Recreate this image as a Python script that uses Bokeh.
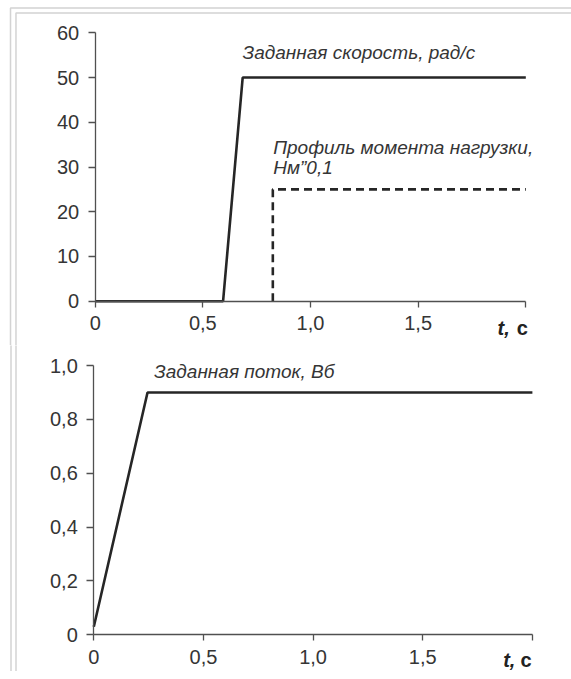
from bokeh.plotting import figure
from bokeh.models import Range1d, FixedTicker, Label, BoxAnnotation
from bokeh.layouts import column
from bokeh.embed import file_html
from bokeh.resources import INLINE

# ---- data ----
t_speed = [0.0, 0.594, 0.685, 2.0]
speed = [0.0, 0.0, 50.0, 50.0]

t_load = [0.825, 0.825, 2.0]
load = [0.0, 25.0, 25.0]

t_flux = [0.0, 0.245, 2.0]
flux = [0.03, 0.9, 0.9]

x_ticks = [0, 0.5, 1.0, 1.5, 2.0]
x_tick_labels = ["0", "0,5", "1,0", "1,5", ""]
y1_ticks = [0, 10, 20, 30, 40, 50, 60]
y1_tick_labels = ["0", "10", "20", "30", "40", "50", "60"]
y2_ticks = [0, 0.2, 0.4, 0.6, 0.8, 1.0]
y2_tick_labels = ["0", "0,2", "0,4", "0,6", "0,8", "1,0"]

label_speed = "Заданная скорость, рад/с"
label_load_1 = "Профиль момента нагрузки,"
label_load_2 = "Нм\u201d0,1"
label_flux = "Заданная поток, Вб"
axis_t = "t,"
axis_unit = "с"

FONT = "Liberation Sans"
LINE = "#262626"
AXIS = "#505050"
TEXT = "#353535"
FRAME = "#6e6e6e"


def style(p, xt, xl, yt, yl, ybounds):
    p.xgrid.visible = False
    p.ygrid.visible = False
    p.outline_line_color = None
    for ax in (p.xaxis[0], p.yaxis[0]):
        ax.axis_line_color = AXIS
        ax.axis_line_width = 1.3
        ax.major_tick_line_color = AXIS
        ax.major_tick_line_width = 1.3
        ax.major_tick_in = 0
        ax.minor_tick_line_color = None
        ax.major_label_text_font = FONT
        ax.major_label_text_font_size = "20px"
        ax.major_label_text_color = TEXT
        ax.fixed_location = 0
    xa = p.xaxis[0]
    xa.ticker = FixedTicker(ticks=xt)
    xa.major_label_overrides = {v: s for v, s in zip(xt, xl)}
    xa.bounds = (xt[0], xt[-1])
    xa.major_tick_out = 6
    xa.major_label_standoff = 9
    ya = p.yaxis[0]
    ya.ticker = FixedTicker(ticks=yt)
    ya.major_label_overrides = {v: s for v, s in zip(yt, yl)}
    ya.bounds = ybounds
    ya.major_tick_out = 7
    ya.major_label_standoff = 9


def t_label(p, dx_t, dx_c, y):
    p.add_layout(Label(x=2.0, y=y, x_offset=dx_t, text=axis_t,
                       text_font=FONT, text_font_size="20px", text_font_style="bold italic",
                       text_color="#222222", text_align="right", text_baseline="middle"))
    p.add_layout(Label(x=2.0, y=y, x_offset=dx_c, text=axis_unit,
                       text_font=FONT, text_font_size="20px", text_font_style="bold",
                       text_color="#222222", text_align="left", text_baseline="middle"))


def page_frame(p, lefts, tops):
    # decorative double rule of the scanned page (left and top edges)
    for l, t in zip(lefts, tops):
        p.add_layout(BoxAnnotation(left=l, right=50, top=t, bottom=-1000,
                                   fill_alpha=0, line_color=FRAME, line_width=1.5))


def make_fig(h, xr, yr):
    p = figure(width=571, height=h, output_backend="svg", toolbar_location=None,
               x_range=Range1d(*xr), y_range=Range1d(*yr),
               min_border_left=0, min_border_right=0, min_border_top=0, min_border_bottom=0)
    return p


# ---- top panel: t=0 at x=94.7, 215.3 px/unit; y=0 at 300.7, 4.473 px/unit ----
p1 = make_fig(345, (-0.4398, 2.2122), (-9.904, 67.226))
style(p1, x_ticks, x_tick_labels, y1_ticks, y1_tick_labels, (0, 60))
page_frame(p1, [-0.3933, -0.3679], [65.55, 64.43])
p1.line(t_speed, speed, line_width=2.6, line_color=LINE)
p1.line(t_load, load, line_width=2.6, line_color=LINE, line_dash="8 5")
for txt, x, y in [(label_speed, 0.684, 55.7), (label_load_1, 0.827, 34.4), (label_load_2, 0.827, 30.0)]:
    p1.add_layout(Label(x=x, y=y, text=txt, text_font=FONT, text_font_size="19px",
                        text_font_style="italic", text_color=TEXT,
                        text_align="left", text_baseline="middle"))
t_label(p1, -16, -9, -6.0)

# ---- bottom panel: t=0 at x=93.3, 219.3 px/unit; y=0 at 289.3 (panel), 269.3 px/unit ----
p2 = make_fig(326, (-0.42544, 2.17830), (-0.13628, 1.07427))
style(p2, x_ticks, x_tick_labels, y2_ticks, y2_tick_labels, (0, 1))
page_frame(p2, [-0.37756, -0.35476], [5, 5])
p2.line(t_flux, flux, line_width=2.6, line_color=LINE)
p2.add_layout(Label(x=0.275, y=0.979, text=label_flux, text_font=FONT, text_font_size="19px",
                    text_font_style="italic", text_color=TEXT,
                    text_align="left", text_baseline="middle"))
t_label(p2, -17, -12, -0.0954)

layout = column(p1, p2, spacing=0)

open("out.html", "w").write(file_html(layout, INLINE))
